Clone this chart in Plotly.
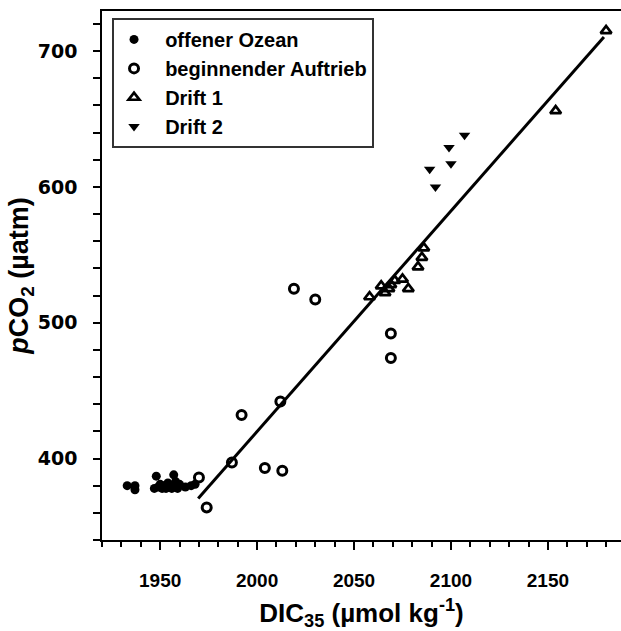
import plotly.graph_objects as go

# offener Ozean (filled circles)
ozean_x = [1933, 1937, 1937, 1947, 1948, 1949, 1950, 1951, 1952, 1953, 1954, 1955,
           1956, 1957, 1957, 1958, 1959, 1960, 1963, 1966, 1968]
ozean_y = [380, 380, 377, 378, 387, 379, 381, 378, 380, 378, 382, 379,
           378, 380, 388, 383, 378, 381, 379, 380, 381]

# beginnender Auftrieb (open circles)
auftrieb_x = [1970, 1974, 1987, 1992, 2004, 2013, 2012, 2019, 2030, 2069, 2069]
auftrieb_y = [386, 364, 397, 432, 393, 391, 442, 525, 517, 492, 474]

# Drift 1 (open up-triangles)
drift1_x = [2058, 2064, 2066, 2068, 2069, 2071, 2075, 2078, 2083, 2085, 2086, 2154, 2180]
drift1_y = [519, 527, 522, 525, 528, 531, 532, 525, 541, 548, 555, 656, 715]

# Drift 2 (filled down-triangles)
drift2_x = [2089, 2092, 2099, 2100, 2107]
drift2_y = [613, 600, 629, 617, 638]

# regression line end points
fit_x = [1969.6, 2178.9]
fit_y = [370.5, 710.4]

FONT = "Liberation Sans, Arial, sans-serif"
WIDE = "DejaVu Sans, Liberation Sans, sans-serif"
PAD = "\u00a0\u00a0"

fig = go.Figure()
fig.add_trace(go.Scatter(x=fit_x, y=fit_y, mode="lines",
                         line=dict(color="black", width=3), showlegend=False))
fig.add_trace(go.Scatter(x=ozean_x, y=ozean_y, mode="markers", name=PAD + "offener Ozean",
                         marker=dict(symbol="circle", size=9, color="black")))
fig.add_trace(go.Scatter(x=auftrieb_x, y=auftrieb_y, mode="markers", name=PAD + "beginnender Auftrieb",
                         marker=dict(symbol="circle-open", size=9, color="black",
                                     line=dict(width=3, color="black"))))
fig.add_trace(go.Scatter(x=drift1_x, y=drift1_y, mode="markers", name=PAD + "Drift 1",
                         marker=dict(symbol="triangle-up-open", size=9.5, color="black",
                                     line=dict(width=2.7, color="black"))))
fig.add_trace(go.Scatter(x=drift2_x, y=drift2_y, mode="markers", name=PAD + "Drift 2",
                         marker=dict(symbol="triangle-down", size=10, color="black")))

fig.update_layout(
    width=621, height=631,
    margin=dict(l=102, r=0, t=11, b=91),
    plot_bgcolor="white", paper_bgcolor="white",
    font=dict(family=FONT, color="black"),
    legend=dict(x=0.0193, y=0.987, xanchor="left", yanchor="top",
                bgcolor="white", bordercolor="#333333", borderwidth=2,
                font=dict(family=FONT, size=20, weight="bold", color="black"),
                itemwidth=30),
    xaxis=dict(range=[1920, 2187.7], dtick=50, tick0=0,
               showgrid=False, zeroline=False,
               showline=True, linecolor="black", linewidth=1.5, mirror=True,
               ticks="outside", ticklen=8, tickwidth=1.5, tickcolor="black",
               minor=dict(dtick=10, ticks="outside", ticklen=5, tickwidth=1.5, tickcolor="black"),
               tickfont=dict(family=FONT, size=19, weight="bold"),
               ticklabelstandoff=14,
               title=dict(text="DIC<sub>35</sub> (µmol kg<sup>-1</sup>)",
                          font=dict(family=FONT, size=26, weight="bold"), standoff=16)),
    yaxis=dict(range=[340, 729.5], dtick=100, tick0=0,
               showgrid=False, zeroline=False,
               showline=True, linecolor="black", linewidth=1.5,
               ticks="outside", ticklen=7, tickwidth=1.5, tickcolor="black",
               minor=dict(dtick=20, ticks="outside", ticklen=7, tickwidth=1.5, tickcolor="black"),
               tickfont=dict(family=WIDE, size=19, weight="bold"),
               ticklabelstandoff=12,
               title=dict(text="<i>p</i>CO<sub>2</sub> (µatm)",
                          font=dict(family=FONT, size=27, weight="bold"), standoff=0)),
)

fig.write_html("out.html")
